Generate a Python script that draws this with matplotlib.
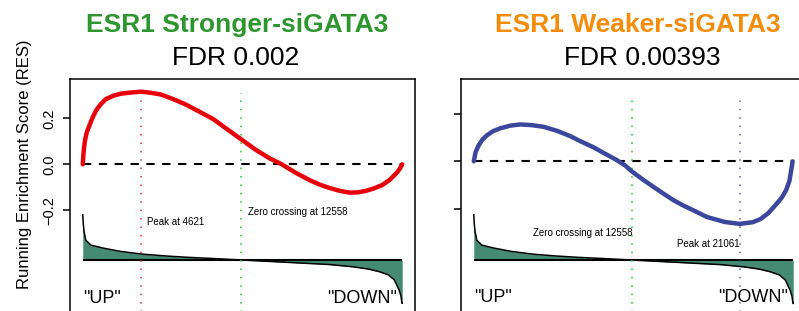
import matplotlib
matplotlib.use("Agg")
import matplotlib.pyplot as plt

plt.rcParams["font.family"] = ["Liberation Sans", "DejaVu Sans"]

# ---- data ------------------------------------------------------------------
N_GENES = 25300
ZERO_CROSS = 12558

left_title = "ESR1 Stronger-siGATA3"
left_fdr = "FDR 0.002"
left_peak = 4621
left_res_idx = [0, 60, 160, 320, 500, 750, 1030, 1400, 1810, 2400, 3000, 3800,
                4621, 5400, 6150, 7100, 8120, 9200, 10320, 11500, 12690, 13700,
                14800, 15760, 16900, 17970, 18800, 19550, 20400, 21120, 21800,
                22460, 23100, 23720, 24300, 24830, 25100, 25300]
left_res = [0.0, 0.05, 0.10, 0.14, 0.165, 0.20, 0.232, 0.26, 0.283, 0.298, 0.307,
            0.312, 0.316, 0.311, 0.304, 0.285, 0.261, 0.23, 0.197, 0.15, 0.103,
            0.063, 0.026, 0.0, -0.038, -0.069, -0.089, -0.103, -0.116, -0.123,
            -0.122, -0.115, -0.104, -0.09, -0.068, -0.039, -0.02, 0.0]

right_title = "ESR1 Weaker-siGATA3"
right_fdr = "FDR 0.00393"
right_peak = 21061
right_res_idx = [0, 150, 395, 700, 1058, 1500, 2109, 2900, 3689, 4600, 5529,
                 6600, 7638, 8500, 9479, 10400, 11327, 12000, 12559, 13400,
                 14218, 15000, 15798, 16600, 17354, 18460, 19882, 21067, 22093,
                 22700, 23300, 23900, 24400, 24739, 25000, 25134, 25253]
right_res = [0.0, 0.04, 0.068, 0.092, 0.11, 0.126, 0.139, 0.15, 0.155, 0.152,
             0.145, 0.128, 0.106, 0.083, 0.059, 0.032, 0.005, -0.018, -0.044,
             -0.077, -0.107, -0.135, -0.163, -0.186, -0.205, -0.234, -0.255,
             -0.263, -0.256, -0.243, -0.219, -0.184, -0.152, -0.121, -0.082,
             -0.04, 0.0]

# ranked list metric (shared by both panels), normalised to the top value
metric_idx = [0, 40, 100, 240, 630, 1680, 3000, 4700, 6500, 8250, 10500, 12558,
              15000, 17420, 19500, 21360, 22600, 23490, 24200, 24670, 25060,
              25200, 25280, 25300]
metric = [1.0, 0.8, 0.63, 0.44, 0.33, 0.26, 0.19, 0.13, 0.09, 0.06, 0.03, 0.0,
          -0.035, -0.07, -0.1, -0.15, -0.2, -0.26, -0.33, -0.44, -0.67, -0.8,
          -0.96, -0.96]

W, H = 799, 311
fig = plt.figure(figsize=(W / 100, H / 100), dpi=100)


def px_axes(l, t, r, b):
    return fig.add_axes([l / W, 1 - b / H, (r - l) / W, (b - t) / H])


def panel(ax, res_idx, res, color, peak, ylim, base, scale, show_labels,
          zero_text, peak_text):
    ax.set_xlim(-0.04 * N_GENES, 1.04 * N_GENES)
    ax.set_ylim(*ylim)
    m = [base + scale * v for v in metric]
    ax.fill_between(metric_idx, base, m, color="#458b74", lw=0)
    ax.plot(metric_idx, m, color="black", lw=1.1)
    ax.hlines(base, 0, N_GENES, color="black", lw=1.5)
    ax.hlines(0, 0, N_GENES, color="black", lw=1.5, linestyles=[(0, (4, 3.6))])
    ax.vlines(ZERO_CROSS, ylim[0], zero_text[2], color="#22cc22", lw=1.1,
              linestyles=[(0, (1, 4.5))])
    ax.vlines(peak, ylim[0], peak_text[2], color=color, lw=1.1, alpha=0.8,
              linestyles=[(0, (1, 4.5))])
    ax.plot(res_idx, res, color=color, lw=3.2, solid_capstyle="round",
            solid_joinstyle="round")

    zx, zy, _, zha = zero_text
    ax.text(zx, zy, f"Zero crossing at {ZERO_CROSS}", fontsize=7, ha=zha,
            va="center")
    px, py, _, pha = peak_text
    ax.text(px, py, f"Peak at {peak}", fontsize=7, ha=pha, va="center")
    ax.text(0, ylim[0] + 0.074, '"UP"', fontsize=13, ha="left", va="baseline")
    ax.text(N_GENES * 0.985, ylim[0] + 0.074, '"DOWN"', fontsize=13,
            ha="right", va="baseline")

    ax.set_xticks([])
    ax.set_yticks([-0.2, 0.0, 0.2])
    if show_labels:
        ax.set_yticklabels(["\u22120.2", "0.0", "0.2"], rotation=90,
                           va="center", fontsize=10.5)
    else:
        ax.set_yticklabels([])
    ax.tick_params(axis="y", length=5, width=1.1, pad=5)
    ax.spines["bottom"].set_visible(False)
    for s in ("top", "left", "right"):
        ax.spines[s].set_linewidth(1.1)


ax1 = px_axes(70, 79, 415, 320)
panel(ax1, left_res_idx, left_res, "#e8000b", left_peak, (-0.677, 0.371),
      -0.416, 0.196, True,
      (13080, -0.207, 0.31, "left"), (5120, -0.251, 0.30, "left"))

ax2 = px_axes(461, 79, 806, 320)
panel(ax2, right_res_idx, right_res, "#3a479c", right_peak, (-0.667, 0.346),
      -0.415, 0.19, False,
      (ZERO_CROSS, -0.301, 0.276, "right"), (right_peak, -0.347, 0.268, "right"))

fig.text(237.5 / W, 1 - 32 / H, left_title, color="#2e962e", fontsize=19,
         fontweight="bold", ha="center", va="baseline")
fig.text(236 / W, 1 - 65 / H, left_fdr, fontsize=19, ha="center", va="baseline")
fig.text(637.5 / W, 1 - 32 / H, right_title, color="#f48c0a", fontsize=19,
         fontweight="bold", ha="center", va="baseline")
fig.text(642 / W, 1 - 65 / H, right_fdr, fontsize=19, ha="center",
         va="baseline")
fig.text(25 / W, 1 - 164 / H, "Running Enrichment Score (RES)", fontsize=12,
         rotation=90, ha="center", va="center")

fig.savefig("out.png", dpi=100)
